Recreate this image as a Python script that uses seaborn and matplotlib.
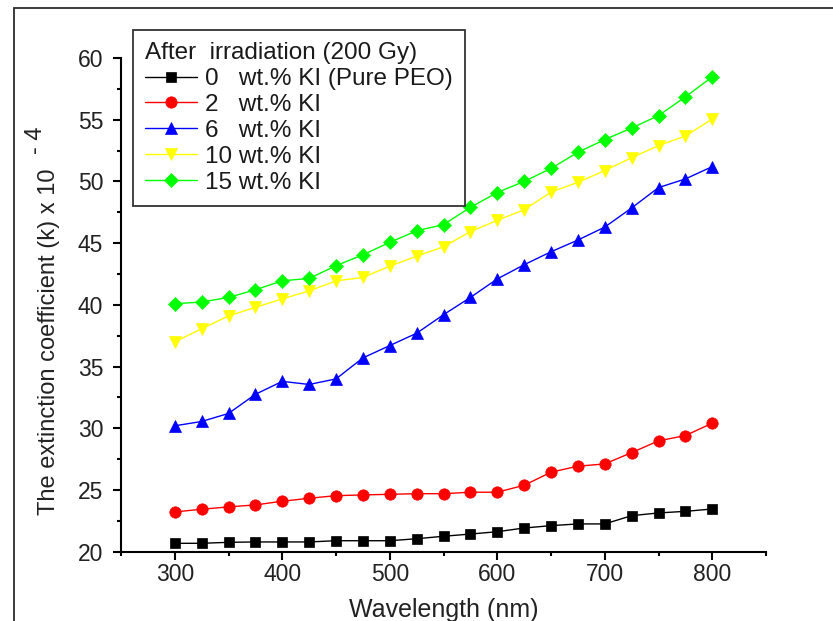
import matplotlib
matplotlib.use("Agg")
import matplotlib.pyplot as plt
import seaborn as sns
from matplotlib.patches import Rectangle
from matplotlib.ticker import MultipleLocator

# Wavelength grid (nm)
wavelength = [300, 325, 350, 375, 400, 425, 450, 475, 500, 525, 550,
              575, 600, 625, 650, 675, 700, 725, 750, 775, 800]

# Extinction coefficient k (x 10^-4) after 200 Gy irradiation
k_0wt = [20.68, 20.68, 20.76, 20.79, 20.79, 20.79, 20.89, 20.89, 20.89, 21.05, 21.25,
         21.43, 21.62, 21.92, 22.11, 22.25, 22.25, 22.92, 23.14, 23.27, 23.46]
k_2wt = [23.22, 23.44, 23.63, 23.79, 24.09, 24.33, 24.54, 24.60, 24.65, 24.70, 24.70,
         24.82, 24.82, 25.38, 26.44, 26.93, 27.11, 28.03, 28.98, 29.41, 30.41]
k_6wt = [30.20, 30.55, 31.20, 32.75, 33.80, 33.55, 34.00, 35.70, 36.70, 37.70, 39.20,
         40.60, 42.10, 43.25, 44.30, 45.25, 46.30, 47.85, 49.50, 50.20, 51.20]
k_10wt = [37.00, 38.06, 39.10, 39.80, 40.48, 41.13, 41.94, 42.22, 43.13, 43.94, 44.70,
          45.93, 46.85, 47.70, 49.13, 49.93, 50.88, 51.92, 52.90, 53.68, 55.05]
k_15wt = [40.09, 40.23, 40.60, 41.22, 41.95, 42.14, 43.17, 44.06, 45.06, 46.00, 46.50,
          47.90, 49.10, 50.00, 51.05, 52.36, 53.39, 54.33, 55.33, 56.85, 58.47]

series_labels = ["0   wt.% KI (Pure PEO)", "2   wt.% KI", "6   wt.% KI",
                 "10 wt.% KI", "15 wt.% KI"]
legend_title = "After  irradiation (200 Gy)"

x_ticks = [300, 400, 500, 600, 700, 800]
y_ticks = [20, 25, 30, 35, 40, 45, 50, 55, 60]

sns.set_theme(style="ticks")
plt.rcParams["font.family"] = ["Liberation Sans", "DejaVu Sans"]
plt.rcParams["text.color"] = "#1a1a1a"

W, H = 833, 621
fig = plt.figure(figsize=(W / 100, H / 100), dpi=100)
fig.patch.set_facecolor("white")

# outer page frame (only top and left edges fall inside the canvas)
fig.patches.append(Rectangle((14 / W, -0.2), 1.5, 1.2 - 8 / H, transform=fig.transFigure,
                             fill=False, edgecolor="#2b2b2b", linewidth=1.3, clip_on=False))

ax = fig.add_axes([121 / W, 69.3 / H, 645 / W, 493.7 / H])

styles = [
    (k_0wt, "#000000", "s", 7.8),
    (k_2wt, "#ff0000", "o", 8.2),
    (k_6wt, "#0000ff", "^", 8.8),
    (k_10wt, "#ffff00", "v", 8.8),
    (k_15wt, "#00ff00", "D", 7.2),
]
for (vals, color, marker, ms), lab in zip(styles, series_labels):
    sns.lineplot(x=wavelength, y=vals, ax=ax, color=color, marker=marker,
                 markersize=ms, markeredgecolor=color, markeredgewidth=0.5,
                 linewidth=1.0, label=lab)

ax.set_xlim(250, 850)
ax.set_ylim(20, 60)
ax.set_xticks(x_ticks)
ax.set_yticks(y_ticks)
ax.xaxis.set_minor_locator(MultipleLocator(50))
ax.yaxis.set_minor_locator(MultipleLocator(2.5))

for side in ("top", "right"):
    ax.spines[side].set_visible(False)
for side in ("left", "bottom"):
    ax.spines[side].set_linewidth(1.5)
    ax.spines[side].set_color("black")

ax.tick_params(axis="both", which="major", direction="out", length=5.8, width=1.5,
               color="black", labelsize=16.5, labelcolor="#222222")
ax.tick_params(axis="both", which="minor", direction="out", length=3.0, width=1.5,
               color="black")
ax.tick_params(axis="x", which="major", pad=2.5)
ax.tick_params(axis="y", which="major", pad=7)

ax.set_xlabel("Wavelength (nm)", fontsize=18, va="baseline", color="#222222")
ax.xaxis.set_label_coords(0.5, -0.1323)

ax.set_ylabel("The extinction coefficient (k) x 10", fontsize=17, ha="left",
              va="baseline", color="#222222")
ax.yaxis.set_label_coords(-0.1023, 0.0743)
ax.text(-0.1225, 0.806, "- 4", transform=ax.transAxes, rotation=90,
        rotation_mode="anchor", ha="left", va="baseline", fontsize=17,
        color="#222222", clip_on=False)

handles, labels = ax.get_legend_handles_labels()
leg = ax.legend(handles, labels, title=legend_title, loc="upper left",
                bbox_to_anchor=(133 / W, 1 - 30 / H), bbox_transform=fig.transFigure,
                borderaxespad=0, frameon=True, fancybox=False, fontsize=17.5,
                title_fontsize=17.5, alignment="left", handlelength=2.15,
                handletextpad=0.33, labelspacing=0.16, borderpad=0.5,
                numpoints=1)
leg.get_frame().set_edgecolor("#333333")
leg.get_frame().set_linewidth(1.3)
leg.get_frame().set_alpha(1)

fig.savefig("out.png", dpi=100, facecolor="white")
